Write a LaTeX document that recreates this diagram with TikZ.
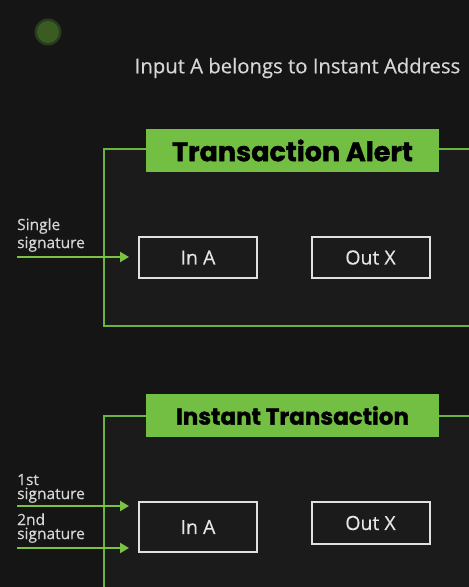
\documentclass[tikz,border=0pt]{standalone}
\usepackage{fontspec}
\setmainfont{Open Sans}[FakeBold=0.35]
\newfontfamily\headfont{Poppins}[BoldFeatures={FakeBold=1.4}]
\usetikzlibrary{arrows.meta}

\definecolor{bgdark}{HTML}{151515}
\definecolor{framefill}{HTML}{1B1B1B}
\definecolor{frameline}{HTML}{6CB33F}
\definecolor{bannergreen}{HTML}{72BF44}
\definecolor{arrowgreen}{HTML}{7CC242}
\definecolor{labelgrey}{HTML}{D6D6D6}
\definecolor{dotgreen}{HTML}{3A5C23}

\begin{document}
\begin{tikzpicture}[
  x=1pt, y=-1pt,
  frame/.style={draw=frameline, line width=1.8pt, fill=framefill},
  banner/.style={fill=bannergreen, minimum width=293pt, minimum height=43pt, inner sep=0pt, text=black},
  inbox/.style={draw=white!88!black, line width=2pt, minimum width=118pt, inner sep=0pt, font=\fontsize{19.5}{19}\selectfont, text=white!90!black},
  siglabel/.style={align=left, anchor=south west, inner sep=0pt, text=labelgrey},
  sig/.style={draw=arrowgreen, line width=2.6pt, shorten >=9pt, -{Triangle[length=9pt,width=10pt]}}
]
  \fill[bgdark] (0,0) rectangle (469,587);
  \useasboundingbox (0,0) rectangle (469,587);
  \clip (0,0) rectangle (469,587);

  % Blurry dot and heading
  \fill[dotgreen!55!bgdark] (48,32) circle (13.5pt);
  \fill[dotgreen] (48,32) circle (11pt);
  \node[text=labelgrey, font=\fontsize{20.3}{20}\selectfont] (title) at (297.5,68) {Input A belongs to Instant Address};

  % First frame: single signature
  \draw[frame] (104,149) rectangle (485,326);
  \node[banner, font=\headfont\bfseries\fontsize{27}{27}\selectfont] (alert) at (292.5,150.5) {Transaction Alert};
  \node[inbox, minimum height=41pt] (inA) at (198,257.5) {In A};
  \node[inbox, minimum height=41pt] (outX) at (370.5,257.5) {Out X};
  \coordinate (single) at (17,257);
  \draw[sig] (single) -- (single -| inA.west);
  \node[siglabel, font=\fontsize{15.5}{18}\selectfont] (singlelbl) at (17,252) {Single\\signature};

  % Second frame: two signatures
  \draw[frame] (104,416) rectangle (485,600);
  \node[banner, font=\headfont\bfseries\fontsize{23}{23}\selectfont] (instant) at (292.5,415.5) {Instant Transaction};
  \node[inbox, minimum height=50pt] (inAb) at (198,527) {In A};
  \node[inbox, minimum height=42pt] (outXb) at (370.5,523) {Out X};
  \coordinate (first) at (17,506);
  \coordinate (second) at (17,548);
  \draw[sig] (first) -- (first -| inAb.west);
  \draw[sig] (second) -- (second -| inAb.west);
  \node[siglabel, font=\fontsize{15.5}{14}\selectfont] (firstlbl) at (17,503) {1st\\signature};
  \node[siglabel, font=\fontsize{15.5}{14}\selectfont] (secondlbl) at (17,543) {2nd\\signature};
\end{tikzpicture}
\end{document}
